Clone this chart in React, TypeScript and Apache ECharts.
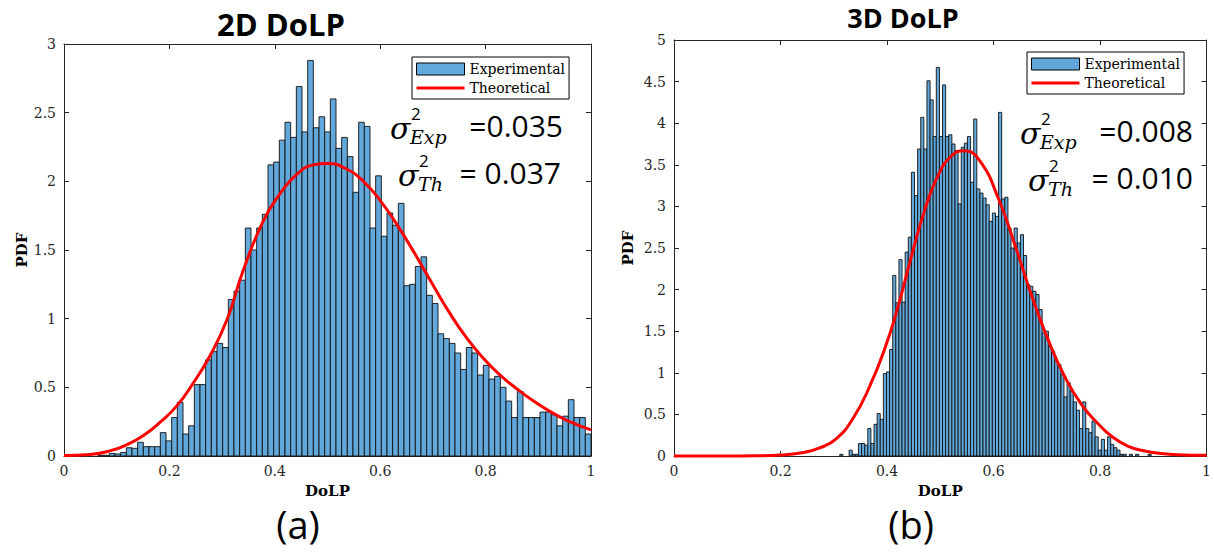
import React, { useEffect, useRef } from "react";
import * as echarts from "echarts";

// ---------- data ----------
// 2D DoLP histogram: 93 equal bins over [0, 1]
const LEFT_BIN_START = 0;
const LEFT_BIN_WIDTH = 1 / 93;
const leftPdf = [
  0, 0, 0, 0, 0, 0, 0.005, 0.005, 0.018, 0.015,
  0.026, 0.06, 0.056, 0.1, 0.068, 0.068, 0.068, 0.17, 0.11, 0.28,
  0.39, 0.16, 0.22, 0.52, 0.52, 0.7, 0.76, 0.82, 0.79, 1.14,
  1.2, 1.28, 1.66, 1.5, 1.66, 1.76, 2.12, 2.14, 2.3, 2.43,
  2.32, 2.69, 2.36, 2.88, 2.39, 2.47, 2.36, 2.6, 2.24, 2.32,
  2.18, 1.92, 2.43, 2.4, 1.66, 2.04, 1.6, 1.77, 1.68, 1.84,
  1.24, 1.25, 1.38, 1.45, 1.17, 1.11, 0.89, 0.855, 0.82, 0.75,
  0.63, 0.79, 0.75, 0.59, 0.66, 0.56, 0.58, 0.5, 0.4, 0.28,
  0.47, 0.28, 0.28, 0.28, 0.32, 0.32, 0.3, 0.22, 0.29, 0.41,
  0.28, 0.28, 0.16,
];
const leftCurveX = [
  0, 0.05, 0.087, 0.119, 0.15, 0.182, 0.214, 0.245, 0.277, 0.309, 0.34,
  0.378, 0.41, 0.4415, 0.473, 0.5, 0.536, 0.568, 0.6, 0.631, 0.66, 0.701,
  0.732, 0.764, 0.796, 0.827, 0.859, 0.891, 0.922, 0.954, 1.0,
];
const leftCurveY = [
  0.003, 0.011, 0.037, 0.082, 0.148, 0.245, 0.365, 0.53, 0.73, 0.99, 1.35,
  1.71, 1.91, 2.05, 2.12, 2.13, 2.09, 2.0, 1.86, 1.69, 1.51, 1.24,
  1.04, 0.86, 0.71, 0.59, 0.49, 0.4, 0.325, 0.26, 0.19,
];

// 3D DoLP histogram: 100 equal bins from the data minimum to maximum
const RIGHT_BIN_START = 0.3113;
const RIGHT_BIN_WIDTH = 0.005847;
const rightPdf = [
  0.02, 0, 0, 0.07, 0.02, 0.02, 0.15, 0.15, 0.13, 0.33,
  0.15, 0.38, 0.51, 0.44, 0.99, 1.01, 1.28, 2.17, 1.84, 2.36,
  1.85, 2.45, 2.63, 3.41, 3.13, 3.69, 4.07, 3.69, 4.51, 4.28,
  3.84, 4.67, 3.84, 4.46, 3.84, 3.86, 3.75, 3.67, 3.03, 3.71,
  3.76, 3.84, 3.29, 4.05, 3.21, 3.16, 3.1, 3.02, 2.82, 2.92,
  2.88, 4.13, 3.09, 3.11, 2.74, 2.5, 2.74, 2.56, 2.66, 2.41,
  2.06, 2.04, 1.98, 1.94, 1.76, 1.48, 1.5, 1.32, 1.26, 1.14,
  1.1, 0.98, 0.71, 0.88, 0.78, 0.65, 0.55, 0.33, 0.65, 0.33,
  0.28, 0.42, 0.23, 0.07, 0.2, 0.07, 0.23, 0.14, 0.1, 0.07,
  0.02, 0.02, 0, 0.02, 0, 0.02, 0, 0, 0, 0.02,
];
const rightCurveX = [
  0, 0.1, 0.15, 0.2, 0.24, 0.275, 0.305, 0.336, 0.367, 0.398, 0.42,
  0.445, 0.47, 0.495, 0.52, 0.545, 0.575, 0.61, 0.641, 0.672, 0.703,
  0.734, 0.765, 0.796, 0.821, 0.852, 0.884, 0.915, 0.946, 1.0,
];
const rightCurveY = [
  0, 0, 0.002, 0.012, 0.04, 0.1, 0.21, 0.45, 0.83, 1.33, 1.78,
  2.38, 2.94, 3.36, 3.6, 3.67, 3.54, 3.08, 2.52, 1.92, 1.39,
  0.95, 0.62, 0.39, 0.24, 0.12, 0.06, 0.03, 0.015, 0.008,
];

const SERIES_HIST = "Experimental";
const SERIES_CURVE = "Theoretical";
const titles = ["2D DoLP", "3D DoLP"];
const panelTags = ["(a)", "(b)"];
const varLabels = [
  { exp: "=0.035", th: "= 0.037" },
  { exp: "=0.008", th: "= 0.010" },
];

// ---------- style ----------
const BAR_FILL = "#62a8da";
const BAR_EDGE = "#111111";
const RED = "#ff0000";
const AXIS = "#262626";
const SERIF = "'DejaVu Serif', serif";
const SANS = "'Open Sans', 'Noto Sans', sans-serif";

function toBins(start: number, width: number, vals: number[]) {
  return vals.map((v, i) => [start + i * width, start + (i + 1) * width, v]);
}
function toPoints(xs: number[], ys: number[]) {
  return xs.map((x, i) => [x, ys[i]]);
}

const renderHist = (_params: any, api: any) => {
  const h = api.value(2);
  if (!(h > 0)) return null;
  const a = api.coord([api.value(0), h]);
  const b = api.coord([api.value(1), 0]);
  return {
    type: "rect",
    shape: { x: a[0], y: a[1], width: b[0] - a[0], height: b[1] - a[1] },
    style: { fill: BAR_FILL, stroke: BAR_EDGE, lineWidth: 0.9 },
  };
};

function xAxes(gridIndex: number) {
  const common = {
    gridIndex,
    type: "value",
    min: 0,
    max: 1,
    interval: 0.2,
    splitLine: { show: false },
    axisLine: { show: true, onZero: false, lineStyle: { color: AXIS, width: 1 } },
    axisTick: { show: true, inside: true, length: 5, lineStyle: { color: AXIS } },
  };
  return [
    {
      ...common,
      position: "bottom",
      name: "DoLP",
      nameLocation: "middle",
      nameGap: 27,
      nameTextStyle: { fontFamily: SERIF, fontWeight: "bold", fontSize: 15, color: "#000" },
      axisLabel: { margin: 8, fontFamily: SERIF, fontSize: 14, color: AXIS },
    },
    { ...common, position: "top", axisLabel: { show: false } },
  ];
}
function yAxes(gridIndex: number, max: number, nameGap: number) {
  const common = {
    gridIndex,
    type: "value",
    min: 0,
    max,
    interval: 0.5,
    splitLine: { show: false },
    axisLine: { show: true, onZero: false, lineStyle: { color: AXIS, width: 1 } },
    axisTick: { show: true, inside: true, length: 5, lineStyle: { color: AXIS } },
  };
  return [
    {
      ...common,
      position: "left",
      name: "PDF",
      nameLocation: "middle",
      nameGap,
      nameTextStyle: { fontFamily: SERIF, fontWeight: "bold", fontSize: 15, color: "#000" },
      axisLabel: { margin: 8, fontFamily: SERIF, fontSize: 14, color: AXIS },
    },
    { ...common, position: "right", axisLabel: { show: false } },
  ];
}

function legendFor(left: number, top: number) {
  return {
    left,
    top,
    orient: "vertical",
    backgroundColor: "#fff",
    borderColor: "#000",
    borderWidth: 1,
    borderRadius: 0,
    padding: [4, 4, 3, 4],
    itemWidth: 48,
    itemHeight: 12,
    itemGap: 3,
    selectedMode: false,
    textStyle: { fontFamily: SERIF, fontSize: 14, color: "#000", lineHeight: 16 },
    data: [
      {
        name: SERIES_HIST,
        icon: "rect",
        itemStyle: { color: BAR_FILL, borderColor: "#000", borderWidth: 1 },
      },
      {
        name: SERIES_CURVE,
        icon: "path://M0,0 L48,0 L48,3 L0,3 Z",
        itemStyle: { color: RED, borderWidth: 0 },
      },
    ],
  };
}

function txt(x: number, y: number, text: string, o: any) {
  return {
    type: "text",
    x,
    y,
    z: 100,
    style: {
      text,
      fill: "#000",
      textAlign: o.align || "left",
      textVerticalAlign: "middle",
      fontSize: o.size,
      lineHeight: o.lh || o.size,
      fontFamily: o.family,
      fontStyle: o.italic ? "italic" : "normal",
      fontWeight: o.bold ? "bold" : "normal",
    },
  };
}

// sigma with a superscript "2" stacked over an italic subscript
function sigmaLine(sx: number, cy: number, sub: string, valueText: string, valueRight: number) {
  return [
    txt(sx, cy + 3, "σ", { size: 30, lh: 22, family: SERIF, italic: true }),
    txt(sx + 21, cy - 12, "2", { size: 17, lh: 14, family: SANS }),
    txt(sx + 20, cy + 12, sub, { size: 19, lh: 15, family: SERIF, italic: true }),
    txt(valueRight, cy, valueText, { align: "right", size: 30, lh: 26, family: SANS }),
  ];
}

export default function App() {
  const ref = useRef<HTMLDivElement>(null);

  useEffect(() => {
    if (!ref.current) return;
    const chart = echarts.init(ref.current, undefined, { renderer: "svg" });

    const lineCommon = {
      type: "line",
      name: SERIES_CURVE,
      smooth: 0.5,
      symbol: "none",
      clip: false,
      lineStyle: { color: RED, width: 3 },
      itemStyle: { color: RED },
      z: 3,
    };
    const histCommon = {
      type: "custom",
      name: SERIES_HIST,
      renderItem: renderHist,
      encode: { x: [0, 1], y: 2 },
      itemStyle: { color: BAR_FILL, borderColor: "#000", borderWidth: 1 },
      z: 2,
    };

    const option: any = {
      animation: false,
      backgroundColor: "#fff",
      grid: [
        { left: 64, top: 44, width: 527, height: 412, containLabel: false },
        { left: 674, top: 40, width: 535, height: 416, containLabel: false },
      ],
      xAxis: [...xAxes(0), ...xAxes(1)],
      yAxis: [...yAxes(0, 3, 34), ...yAxes(1, 5, 39)],
      legend: [legendFor(412, 57), legendFor(1027, 52)],
      series: [
        {
          ...histCommon,
          xAxisIndex: 0,
          yAxisIndex: 0,
          data: toBins(LEFT_BIN_START, LEFT_BIN_WIDTH, leftPdf),
        },
        {
          ...lineCommon,
          xAxisIndex: 0,
          yAxisIndex: 0,
          data: toPoints(leftCurveX, leftCurveY),
        },
        {
          ...histCommon,
          xAxisIndex: 2,
          yAxisIndex: 2,
          data: toBins(RIGHT_BIN_START, RIGHT_BIN_WIDTH, rightPdf),
        },
        {
          ...lineCommon,
          xAxisIndex: 2,
          yAxisIndex: 2,
          data: toPoints(rightCurveX, rightCurveY),
        },
      ],
      graphic: [
        txt(281, 24, titles[0], { align: "center", size: 31, family: SANS, bold: true }),
        txt(903, 17, titles[1], { align: "center", size: 27, lh: 27, family: SANS, bold: true }),
        txt(298, 524, panelTags[0], { align: "center", size: 38, family: SANS }),
        txt(911, 524, panelTags[1], { align: "center", size: 38, family: SANS }),
        ...sigmaLine(390, 125, "Exp", varLabels[0].exp, 563),
        ...sigmaLine(398, 172, "Th", varLabels[0].th, 561),
        ...sigmaLine(1020, 130, "Exp", varLabels[1].exp, 1193),
        ...sigmaLine(1028, 177, "Th", varLabels[1].th, 1193),
      ],
    };

    chart.setOption(option);
    return () => chart.dispose();
  }, []);

  return (
    <div
      ref={ref}
      style={{ position: "fixed", left: 0, top: 0, width: 1214, height: 554, background: "#fff" }}
    />
  );
}
